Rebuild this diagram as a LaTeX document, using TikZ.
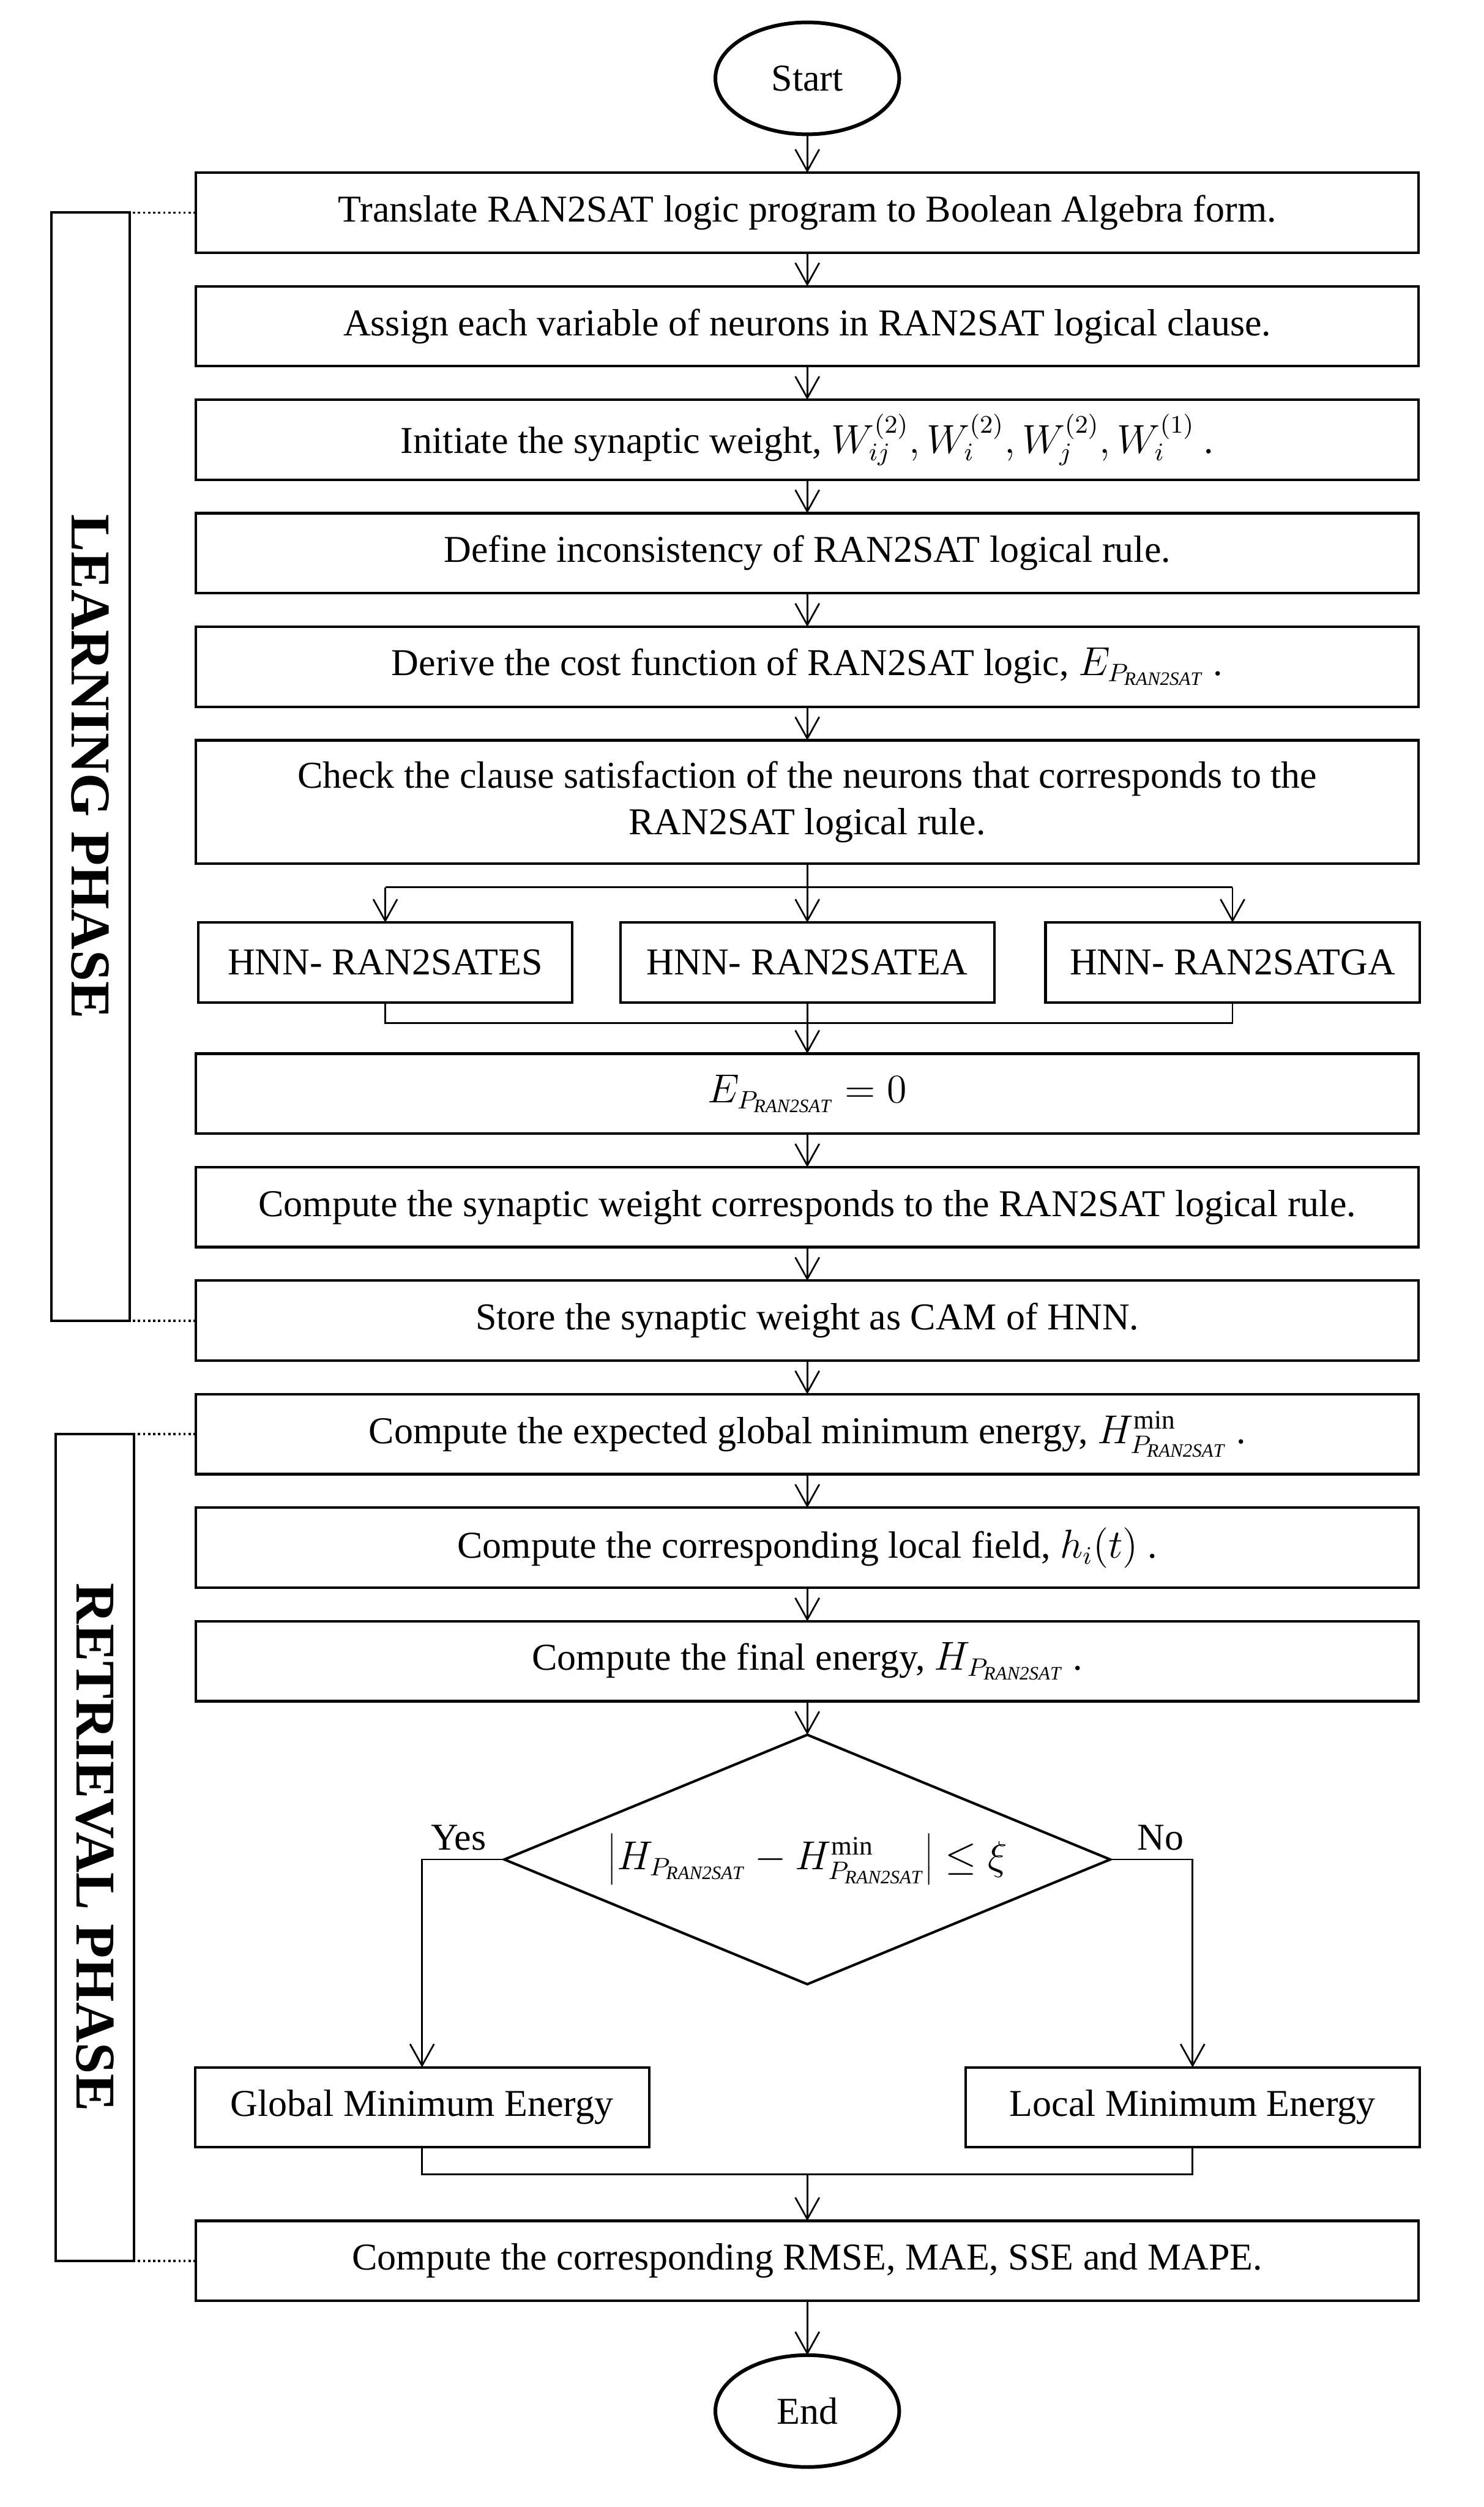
\documentclass[tikz,border=0pt]{standalone}
\usepackage{fontspec}
\usepackage{graphicx}
\setmainfont{Liberation Serif}
\usetikzlibrary{positioning,shapes.geometric,arrows.meta,fit}
\newcommand{\Pran}{P_{\mathit{RAN2SAT}}}

\begin{document}
\begin{tikzpicture}[
  node distance=0.42cm,
  font=\fontsize{13.5}{16.5}\selectfont,
  box/.style={draw, line width=0.9pt, minimum width=15.3cm, minimum height=1cm, align=center, inner sep=2pt, outer sep=0pt},
  subbox/.style={box, minimum width=4.68cm},
  resbox/.style={box, minimum width=5.68cm},
  terminal/.style={draw, ellipse, line width=1.3pt, minimum width=2.3cm, minimum height=1.4cm, inner sep=0pt, outer sep=0pt},
  decision/.style={draw, diamond, aspect=2.43, line width=0.9pt, minimum width=7.58cm, minimum height=3.12cm, inner sep=0pt, outer sep=0pt},
  phase/.style={draw, line width=0.9pt, inner sep=0pt, outer sep=0pt, font=\fontsize{20}{24}\selectfont\bfseries},
  line/.style={line width=0.6pt},
  arrow/.style={line, -{Straight Barb[length=2.7mm, width=3mm]}},
  dotline/.style={line width=0.8pt, densely dotted},
  lbl/.style={inner sep=3pt}
]
\useasboundingbox (0,0) rectangle (18.56,-31.36);

\node[terminal] (start) at (10.1,-0.98) {Start};
\node[box, below=0.48cm of start] (translate) {Translate RAN2SAT logic program to Boolean Algebra form.};
\node[box, below=of translate] (assign) {Assign each variable of neurons in RAN2SAT logical clause.};
\node[box, below=of assign] (init) {Initiate the synaptic weight, $W_{ij}^{(2)},W_{i}^{(2)},W_{j}^{(2)},W_{i}^{(1)}$ .};
\node[box, below=of init] (define) {Define inconsistency of RAN2SAT logical rule.};
\node[box, below=of define] (cost) {Derive the cost function of RAN2SAT logic, $E_{\Pran}$ .};
\node[box, below=of cost, minimum height=1.54cm] (check) {Check the clause satisfaction of the neurons that corresponds to the\\RAN2SAT logical rule.};
\node[subbox, below=0.74cm of check] (hnnea) {HNN- RAN2SATEA};
\node[subbox, left=0.6cm of hnnea] (hnnes) {HNN- RAN2SATES};
\node[subbox, right=0.64cm of hnnea] (hnnga) {HNN- RAN2SATGA};
\node[box, below=0.64cm of hnnea] (zero) {$E_{\Pran}=0$};
\node[box, below=of zero] (weight) {Compute the synaptic weight corresponds to the RAN2SAT logical rule.};
\node[box, below=of weight] (store) {Store the synaptic weight as CAM of HNN.};
\node[box, below=of store] (hmin) {Compute the expected global minimum energy, $H_{\Pran}^{\min}$ .};
\node[box, below=of hmin] (field) {Compute the corresponding local field, $h_i(t)$ .};
\node[box, below=of field] (final) {Compute the final energy, $H_{\Pran}$ .};
\node[decision, below=of final] (test) {$\left|H_{\Pran}-H_{\Pran}^{\min}\right|\le\xi$};
\node[resbox, anchor=north] (global) at (5.28,-25.86) {Global Minimum Energy};
\node[resbox, anchor=north] (local) at (14.92,-25.86) {Local Minimum Energy};
\node[box, below=2.96cm of test] (metric) {Compute the corresponding RMSE, MAE, SSE and MAPE.};
\node[terminal, below=0.68cm of metric] (end) {End};

\node[phase, fit={(0.64,0 |- translate) (1.62,0 |- store)}] (learn) {\rotatebox{-90}{LEARNING PHASE}};
\node[phase, fit={(0.7,0 |- hmin) (1.68,0 |- metric)}] (retrieve) {\rotatebox{-90}{RETRIEVAL PHASE}};

\foreach \a/\b in {start/translate, translate/assign, assign/init, init/define, define/cost, check/hnnea, hnnea/zero, zero/weight, weight/store, store/hmin, hmin/field, field/final, final/test, metric/end}
  \draw[arrow] (\a) -- (\b);

\draw[arrow] (cost) -- (check);
\coordinate[below=0.3cm of check] (split);
\draw[line] (split -| hnnes) -- (split -| hnnga);
\draw[arrow] (split -| hnnes) -- (hnnes);
\draw[arrow] (split -| hnnga) -- (hnnga);
\coordinate[below=0.26cm of hnnea] (join);
\draw[line] (hnnes) |- (join) -| (hnnga);

\draw[arrow] (test.west) -| (global);
\draw[arrow] (test.east) -| (local);
\node[lbl, anchor=south west] (yes) at (test.west -| global) {Yes};
\node[lbl, anchor=south east] (no) at (test.east -| local) {No};
\coordinate[above=0.58cm of metric] (merge);
\draw[line] (global) |- (merge) -| (local);
\draw[arrow] (merge) -- (metric);

\draw[dotline] (translate.west) -- (translate.west -| learn.east);
\draw[dotline] (store.west) -- (store.west -| learn.east);
\draw[dotline] (hmin.west) -- (hmin.west -| retrieve.east);
\draw[dotline] (metric.west) -- (metric.west -| retrieve.east);
\end{tikzpicture}
\end{document}
